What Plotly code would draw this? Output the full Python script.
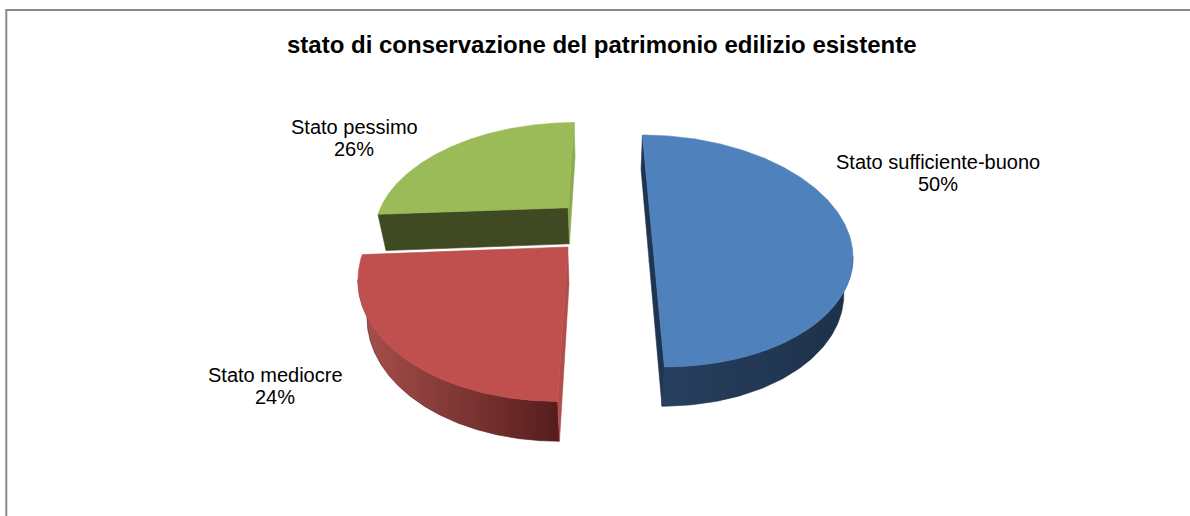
import numpy as np
import plotly.graph_objects as go

# ---------------- data ----------------
categories = ["Stato sufficiente-buono", "Stato mediocre", "Stato pessimo"]
values = [50, 24, 26]
title_text = "stato di conservazione del patrimonio edilizio esistente"

# ---------------- styles / layout constants ----------------
top_colors = ["#4F81BD", "#C0504D", "#9BBB59"]
wall_grad = [["#27405f", "#1d3049"], ["#a9504c", "#561d1d"], ["#3f4a22", "#3f4a22"]]
side_colors = [["#1f3450", "#1f3450"], ["#b14d4a", "#b14d4a"], ["#3f4a23", "#8cab50"]]
label_pos = [(938, 162), (275, 375), (354, 127)]   # label centres (pixels)
LINE_GAP = 22
FONT = "Arial, Liberation Sans, sans-serif"

W, H = 1190, 516
CX, CY = 602.4, 226.0      # projected pie centre
KX, KY = 194.6, 110.6      # radius scale (horizontal / vertical)
PERSP = 0.2154             # perspective strength
EXPLODE = 0.25             # explosion distance (in radii)
THICK = 36.5               # wall thickness in px
CONV = 0.036               # convergence of vertical edges


def proj(X, Y):
    w = 1 + PERSP * np.asarray(Y, dtype=float)
    return CX + KX * np.asarray(X) / w, CY - KY * np.asarray(Y) / w, w


def thick(w):
    return THICK * np.power(w, -0.3)


def drop(x, y, w):
    t = thick(w)
    return x - (x - CX) * CONV * t / THICK, y + t


cam = np.array([0.0, -1.0 / PERSP])
vals = np.array(values, dtype=float)
frac = vals / vals.sum()
ends = np.cumsum(frac) * 2 * np.pi
starts = ends - frac * 2 * np.pi

fig = go.Figure()

slices = []
for i in range(len(values)):
    t0, t1 = starts[i], ends[i]
    tm = 0.5 * (t0 + t1)
    ox, oy = EXPLODE * np.sin(tm), EXPLODE * np.cos(tm)
    slices.append((oy, i, t0, t1, ox))

# far slices first
for oy, i, t0, t1, ox in sorted(slices, key=lambda s: -s[0]):
    ts = np.linspace(t0, t1, 200)
    AX = ox + np.sin(ts)
    AY = oy + np.cos(ts)
    ax_, ay_, aw = proj(AX, AY)
    bx_, by_ = drop(ax_, ay_, aw)
    vx, vy, vw = proj(ox, oy)
    vbx, vby = drop(vx, vy, vw)

    # outer arc wall (visible part only)
    vis = np.sin(ts) * (cam[0] - AX) + np.cos(ts) * (cam[1] - AY) > 0
    idx = np.where(vis)[0]
    if idx.size:
        i0, i1 = max(idx.min() - 1, 0), min(idx.max() + 1, len(ts) - 1)
        sl = slice(i0, i1 + 1)
        fig.add_trace(go.Scatter(
            x=np.concatenate([ax_[sl], bx_[sl][::-1]]),
            y=np.concatenate([ay_[sl], by_[sl][::-1]]),
            mode="lines", fill="toself", line=dict(width=0.6, color=wall_grad[i][1]),
            fillgradient=dict(type="horizontal",
                              colorscale=[[0, wall_grad[i][0]], [1, wall_grad[i][1]]]),
            hoverinfo="skip", showlegend=False))

    # radial cut faces
    for k, t in enumerate((t0, t1)):
        n = np.array([-np.cos(t), np.sin(t)]) if k == 0 else np.array([np.cos(t), -np.sin(t)])
        P = np.array([ox + 0.5 * np.sin(t), oy + 0.5 * np.cos(t)])
        if n.dot(cam - P) <= 0:
            continue
        ex, ey, ew = proj(ox + np.sin(t), oy + np.cos(t))
        ebx, eby = drop(ex, ey, ew)
        col = side_colors[i][k]
        fig.add_trace(go.Scatter(
            x=[vx, ex, ebx, vbx, vx], y=[vy, ey, eby, vby, vy],
            mode="lines", fill="toself", fillcolor=col,
            line=dict(width=0.6, color=col), hoverinfo="skip", showlegend=False))

    # top face
    fig.add_trace(go.Scatter(
        x=np.concatenate([[vx], ax_, [vx]]), y=np.concatenate([[vy], ay_, [vy]]),
        mode="lines", fill="toself", fillcolor=top_colors[i],
        line=dict(width=0.6, color=top_colors[i]),
        name=categories[i], hoverinfo="name", showlegend=False))

# labels
pcts = np.round(frac * 100).astype(int)
for i, cat in enumerate(categories):
    lx, ly = label_pos[i]
    fig.add_annotation(x=lx, y=ly, text=cat, showarrow=False, xanchor="center",
                       yanchor="middle", font=dict(family=FONT, size=20, color="#000000"))
    fig.add_annotation(x=lx, y=ly + LINE_GAP, text=f"{pcts[i]}%", showarrow=False,
                       xanchor="center", yanchor="middle",
                       font=dict(family=FONT, size=20, color="#000000"))

# title
fig.add_annotation(x=601.5, y=44, text=f"<b>{title_text}</b>", showarrow=False,
                   xanchor="center", yanchor="middle",
                   font=dict(family=FONT, size=24, color="#000000"))

# chart border
fig.add_shape(type="rect", x0=6.3, y0=10, x1=W + 20, y1=H + 20,
              line=dict(color="#8a8a8a", width=2), fillcolor="rgba(0,0,0,0)", layer="above")

fig.update_layout(
    width=W, height=H, margin=dict(l=0, r=0, t=0, b=0),
    paper_bgcolor="white", plot_bgcolor="white",
    xaxis=dict(range=[0, W], visible=False, fixedrange=True),
    yaxis=dict(range=[H, 0], visible=False, fixedrange=True),
    showlegend=False,
)

fig.write_html("out.html")
